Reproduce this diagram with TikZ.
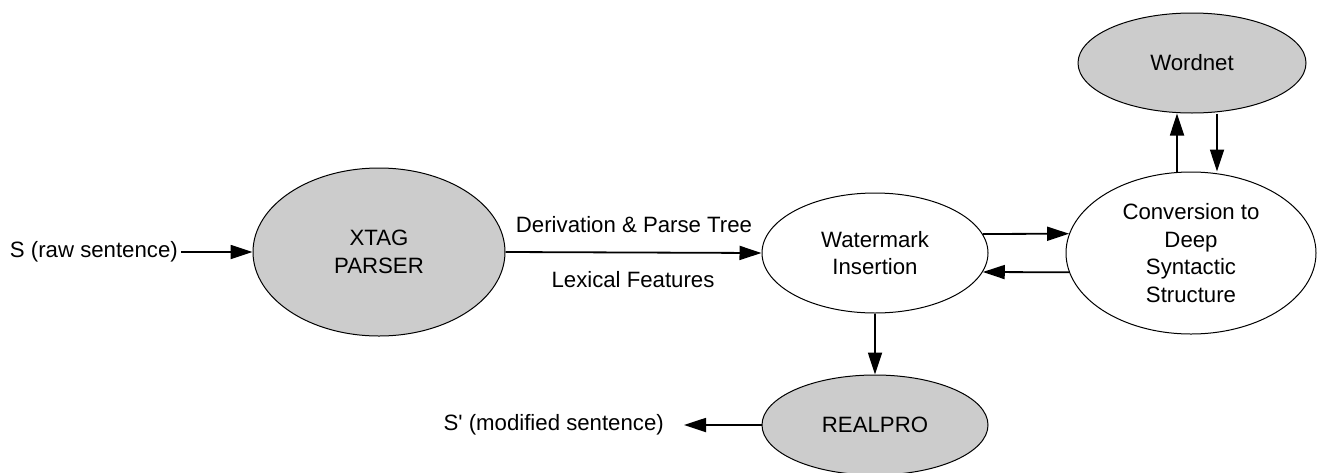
\documentclass[tikz,border=0pt]{standalone}
\usepackage{fontspec}
\setmainfont{Liberation Sans}
\newfontfamily\plainsans{Liberation Sans}
\usetikzlibrary{arrows.meta,shapes.geometric}
\definecolor{nodegray}{RGB}{204,204,204}
\tikzset{
  proc/.style={ellipse, draw=black, line width=1pt, inner sep=0pt, align=center,
    font=\fontsize{22.2}{27.5}\selectfont},
  grayproc/.style={proc, fill=nodegray},
  whiteproc/.style={proc, fill=white},
  lbl/.style={inner sep=0pt, font=\fontsize{22.2}{27.5}\selectfont},
  conn/.style={line width=1.8pt, -{Triangle[length=22pt,width=14pt]}}
}
\begin{document}
\begin{tikzpicture}[x=1pt,y=-1pt]
\useasboundingbox (0,0) rectangle (1317,472);
\node[grayproc, minimum width=252pt, minimum height=168pt] (xtag) at (379,252) {XTAG\\PARSER};
\node[whiteproc, minimum width=226pt, minimum height=120pt] (wm) at (875,253) {Watermark\\Insertion};
\node[whiteproc, minimum width=250pt, minimum height=162pt] (conv) at (1191,253) {Conversion to\\Deep\\Syntactic\\Structure};
\node[grayproc, minimum width=228pt, minimum height=100pt] (wn) at (1192,63) {Wordnet};
\node[grayproc, minimum width=226pt, minimum height=100pt] (rp) at (875,425) {REALPRO};
\node[lbl, anchor=east] (s) at (178,252) {S (raw sentence)};
\node[lbl, anchor=east] (s2) at (664,425) {\plainsans S' (modified sentence)};
\node[lbl] (dpt) at (634,225) {Derivation \& Parse Tree};
\node[lbl] (lf) at (633,280) {Lexical Features};
\draw[conn] ([xshift=3pt]s.east) -- (xtag.west);
\draw[conn] (xtag.east) -- (wm.west);
\draw[conn] (wm.10) -- (conv.171);
\draw[conn] (conv.189) -- (wm.350);
\draw[conn] ([xshift=-14pt]conv.north) -- ([xshift=-15pt]wn.south);
\draw[conn] ([xshift=25pt]wn.south) -- ([xshift=26pt]conv.north);
\draw[conn] (wm.south) -- (rp.north);
\draw[conn] (rp.west) -- ([xshift=20pt]s2.east);
\end{tikzpicture}
\end{document}
